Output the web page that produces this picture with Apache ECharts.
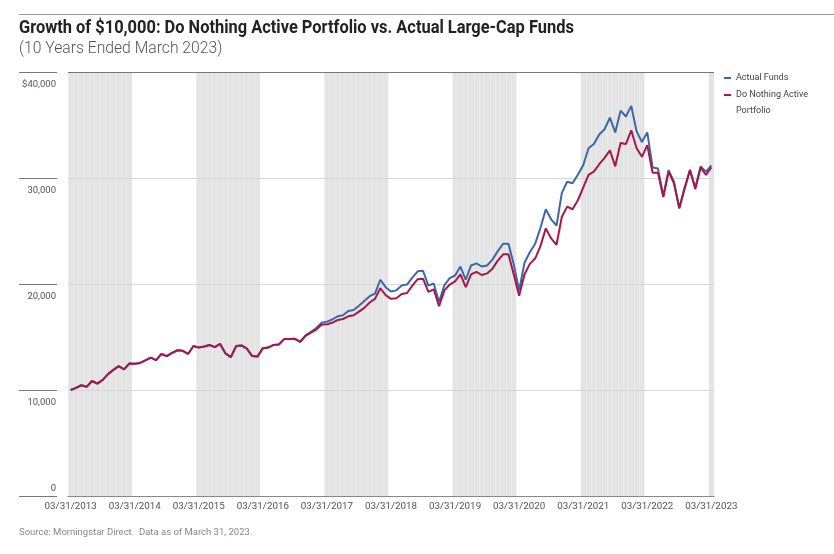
<!DOCTYPE html>
<html>
<head>
<meta charset="utf-8">
<script src="https://cdn.jsdelivr.net/npm/echarts@6/dist/echarts.min.js"></script>
<style>
html,body{margin:0;padding:0;background:#fff;}
#chart{width:834px;height:554px;}
</style>
</head>
<body>
<div id="chart"></div>
<script>
// ---- Data ----
const titleText = 'Growth of $10,000: Do Nothing Active Portfolio vs. Actual Large-Cap Funds';
const subtitleText = '(10 Years Ended March 2023)';
const sourceText = 'Source: Morningstar Direct.  Data as of March 31, 2023.';
const seriesNames = ['Actual Funds', 'Do Nothing Active Portfolio'];
const startYear = 2013;
const startMonth = 3; // March
const monthCount = 121;

const actualFunds = [
  10000,10200,10450,10300,10850,10600,10950,11500,11900,12250,11950,12500,
  12480,12550,12800,13050,12820,13400,13200,13500,13750,13700,13400,14150,
  14000,14100,14250,14050,14350,13450,13100,14150,14200,13900,13200,13150,
  13950,14000,14250,14300,14800,14820,14830,14550,15150,15500,15850,16350,
  16450,16650,16950,17050,17450,17550,17950,18400,18850,19100,20400,19700,
  19300,19400,19850,19950,20600,21200,21250,19850,20050,18300,19900,20550,
  20800,21650,20400,21750,21950,21650,21750,22300,23100,23800,23800,21850,
  19400,22000,23000,23800,25300,27050,26100,25500,28600,29650,29500,30300,
  31200,32800,33200,34100,34600,35700,34300,36350,35800,36800,34400,33400,
  34300,31000,30900,28300,30750,29650,27150,29100,30750,29100,31100,30600,
  31200
];
const doNothing = [
  10000,10200,10450,10300,10850,10600,10950,11500,11900,12250,11950,12500,
  12480,12550,12800,13050,12820,13400,13200,13500,13750,13700,13400,14150,
  14000,14100,14250,14050,14350,13450,13100,14150,14200,13900,13200,13150,
  13950,14000,14250,14300,14800,14820,14830,14550,15100,15400,15700,16150,
  16200,16350,16600,16700,16950,17050,17400,17750,18250,18600,19600,18950,
  18600,18650,19050,19150,19850,20450,20500,19250,19500,17900,19400,19950,
  20250,20900,19700,20900,21150,20850,21000,21450,22200,22800,22800,20900,
  18900,20900,21900,22400,23600,25250,24300,23700,26350,27300,27050,27900,
  29100,30300,30600,31300,31900,32600,31100,33300,33200,34500,32800,32000,
  33100,30500,30500,28200,30600,29500,27150,29000,30750,28950,31000,30300,
  31000
];

// month-end date categories
function monthEnd(i) {
  const m0 = startMonth - 1 + i;
  const y = startYear + Math.floor(m0 / 12);
  const m = m0 % 12;
  const d = new Date(Date.UTC(y, m + 1, 0)).getUTCDate();
  return String(m + 1).padStart(2, '0') + '/' + String(d).padStart(2, '0') + '/' + y;
}
const dates = [];
for (let i = 0; i < monthCount; i++) dates.push(monthEnd(i));

// ---- Chart ----
const FONT = "Roboto, 'Liberation Sans', sans-serif";
const chart = echarts.init(document.getElementById('chart'), null, {renderer: 'canvas'});
const option = {
  backgroundColor: '#fff',
  animation: false,
  legend: [
    {
      data: [seriesNames[0]], orient: 'vertical', left: 724, top: 70, padding: 0,
      icon: 'rect', itemWidth: 7, itemHeight: 2,
      textStyle: {fontFamily: FONT, fontSize: 9, color: '#444', lineHeight: 16}
    },
    {
      data: [{name: seriesNames[1]}], orient: 'vertical', left: 724, top: 71, padding: 0,
      icon: 'rect', itemWidth: 7, itemHeight: 2,
      formatter: function () { return '\nDo Nothing Active\nPortfolio'; },
      textStyle: {fontFamily: FONT, fontSize: 9, color: '#444', lineHeight: 16}
    }
  ],
  grid: {left: 68, right: 120, top: 72, bottom: 58, containLabel: false},
  xAxis: {
    type: 'category',
    data: dates,
    boundaryGap: true,
    z: 0,
    axisLine: {show: true, lineStyle: {color: '#888', width: 1}},
    axisTick: {show: false},
    axisLabel: {interval: 11, margin: 6, fontFamily: FONT, fontSize: 9.8, color: '#555'},
    splitArea: {show: true, interval: 11, areaStyle: {color: ['#e4e4e4', 'rgba(255,255,255,0)']}},
    splitLine: {show: true, interval: 0, lineStyle: {color: 'rgba(255,255,255,0.22)', width: 1}}
  },
  yAxis: {
    type: 'value',
    min: 0, max: 40000, interval: 10000,
    offset: 11,
    z: 1,
    axisLine: {show: false},
    axisTick: {show: true, length: 38, lineStyle: {color: '#777', width: 1}},
    axisLabel: {
      margin: 1, fontFamily: FONT, fontSize: 9.5, color: '#555', verticalAlign: 'middle',
      formatter: function (v) {
        if (v === 0) return '{b|0}';
        const s = (v === 40000 ? '$' : '') + v.toLocaleString('en-US');
        return '{t|' + s + '}';
      },
      rich: {
        t: {fontFamily: FONT, fontSize: 9.5, color: '#555', lineHeight: 12, padding: [26, 0, 0, 0]},
        b: {fontFamily: FONT, fontSize: 9.5, color: '#555', lineHeight: 12, padding: [0, 0, 15, 0]}
      }
    },
    splitLine: {show: true, lineStyle: {color: ['#888', '#d6d6d6', '#d6d6d6', '#d6d6d6', '#777'], width: 1}}
  },
  series: [
    {
      name: seriesNames[0], type: 'line', data: actualFunds, showSymbol: false, symbol: 'none',
      lineStyle: {color: '#3a68aa', width: 2}, itemStyle: {color: '#3a68aa'}, z: 3
    },
    {
      name: seriesNames[1], type: 'line', data: doNothing, showSymbol: false, symbol: 'none',
      lineStyle: {color: '#a8174a', width: 2}, itemStyle: {color: '#a8174a'}, z: 4
    }
  ],
  graphic: [
    {type: 'line', shape: {x1: 19, y1: 14.5, x2: 834, y2: 14.5}, style: {stroke: '#999', lineWidth: 1}},
    {type: 'text', x: 19, y: 19, scaleX: 0.912,
     style: {text: titleText, fontFamily: FONT, fontWeight: 'bold', fontSize: 18, fill: '#222', textVerticalAlign: 'top'}},
    {type: 'text', x: 19, y: 40, scaleX: 0.923,
     style: {text: subtitleText, fontFamily: FONT, fontWeight: 300, fontSize: 17, fill: '#555', textVerticalAlign: 'top'}},
    {type: 'text', left: 19, top: 528, style: {text: sourceText, fontFamily: FONT, fontSize: 9.5, fill: '#888'}}
  ]
};
chart.setOption(option);
</script>
</body>
</html>
